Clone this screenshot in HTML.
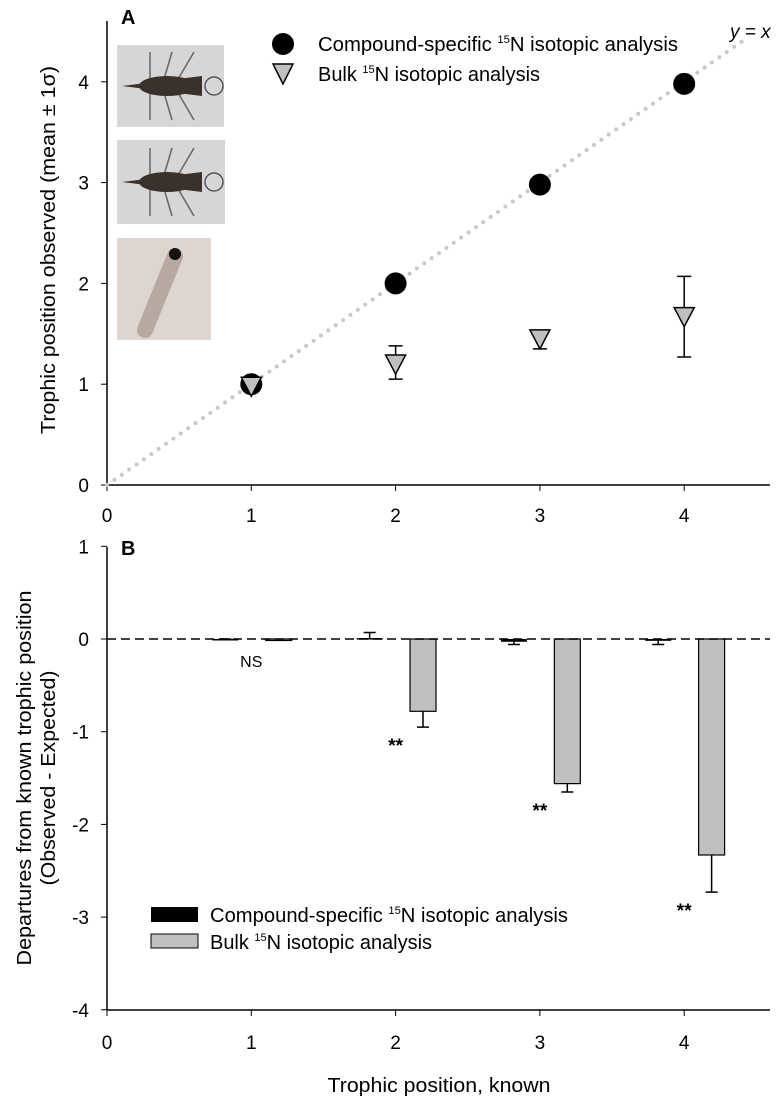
<!DOCTYPE html>
<html><head><meta charset="utf-8"><style>
body{margin:0;background:#fff}
svg{display:block;font-family:"Liberation Sans",sans-serif}
</style></head><body>
<svg id="c" width="783" height="1102" viewBox="0 0 783 1102"></svg>
<script>
const categories=[1,2,3,4];
const csMeanA=[1.0,2.0,2.98,3.98];
const bulkMeanA=[0.98,1.2,1.45,1.67];
const bulkLoA=[0.98,1.05,1.35,1.27];
const bulkHiA=[0.98,1.38,1.53,2.07];
const csDepB=[0,0.01,-0.03,-0.02];
const csErrB=[0,0.07,-0.06,-0.06];
const bulkDepB=[-0.01,-0.78,-1.56,-2.33];
const bulkErrB=[-0.01,-0.95,-1.65,-2.73];
const sigLabels=["NS","**","**","**"];
const ticksXA=[0,1,2,3,4];
const ticksYA=[0,1,2,3,4];
const ticksYB=[1,0,-1,-2,-3,-4];

const NS="http://www.w3.org/2000/svg";
const svg=document.getElementById('c');
function el(t,a,p){const e=document.createElementNS(NS,t);for(const k in a)e.setAttribute(k,a[k]);(p||svg).appendChild(e);return e;}
const X=v=>107+v*144.3;
const YA=v=>485-v*100.8;
const YB=v=>639-v*92.7;
const FS=19;
let e;
// Panel A axes
e=el('line',{x1:107,y1:21,x2:107,y2:485,stroke:'#000','stroke-width':1.5});

e=el('line',{x1:107,y1:485,x2:770,y2:485,stroke:'#000','stroke-width':1.5});

ticksYA.forEach(v=>{el('line',{x1:101,x2:107,y1:YA(v),y2:YA(v),stroke:'#000'});
 e=el('text',{x:89,y:YA(v)+7,'text-anchor':'end','font-size':FS});e.textContent=v;
 });
ticksXA.forEach(v=>{el('line',{x1:X(v),x2:X(v),y1:485,y2:491,stroke:'#000'});
 e=el('text',{x:X(v),y:522,'text-anchor':'middle','font-size':FS});e.textContent=v;
 });
e=el('text',{x:0,y:0,'font-size':20,'text-anchor':'middle',textLength:368,lengthAdjust:'spacingAndGlyphs',transform:'translate(55,250) rotate(-90)'});
e.innerHTML='Trophic position observed (mean ± 1σ)';

e=el('text',{x:121,y:24,'font-size':20,'font-weight':'bold'});e.textContent='A';

e=el('line',{x1:X(0),y1:YA(0),x2:X(4.4),y2:YA(4.4),stroke:'#c8c8c8','stroke-width':4,'stroke-dasharray':'0 9','stroke-linecap':'round'});

e=el('text',{x:730,y:38,'font-size':19,'font-style':'italic'});e.textContent='y = x';

// photos
[[117,45,107,82],[117,140,108,84],[117,238,94,102]].forEach((r,i)=>{
 const g=el('g',{});
 el('rect',{x:r[0],y:r[1],width:r[2],height:r[3],fill:i==2?'#ddd6d0':'#d6d6d6'},g);
 if(i<2){const cx=r[0]+45,cy=r[1]+r[3]/2;
  for(let k=-1;k<=1;k++){el('line',{x1:cx+k*12,y1:cy,x2:cx+k*22+10,y2:cy-34,stroke:'#666','stroke-width':1.5},g);el('line',{x1:cx+k*12,y1:cy,x2:cx+k*22+10,y2:cy+34,stroke:'#666','stroke-width':1.5},g);}
  el('path',{d:`M${r[0]+5},${cy} L${cx+40},${cy-10} L${cx+40},${cy+10} Z`,fill:'#3a302c'},g);
  el('ellipse',{cx:cx+5,cy:cy,rx:28,ry:10,fill:'#3a302c'},g);
  el('circle',{cx:cx+52,cy:cy,r:9,fill:'none',stroke:'#555','stroke-width':1.5},g);}
 else{el('line',{x1:r[0]+58,y1:r[1]+18,x2:r[0]+28,y2:r[1]+92,stroke:'#b8a8a2','stroke-width':16,'stroke-linecap':'round'},g);
  el('circle',{cx:r[0]+58,cy:r[1]+16,r:6,fill:'#111'},g);}
});
categories.forEach((c,i)=>{
 const x=X(c);
 if(bulkHiA[i]!==bulkLoA[i]){
  e=el('path',{d:`M${x},${YA(bulkLoA[i])}V${YA(bulkHiA[i])}M${x-7},${YA(bulkLoA[i])}h14M${x-7},${YA(bulkHiA[i])}h14`,stroke:'#000','stroke-width':1.5,fill:'none'});
  }
 e=el('circle',{cx:x,cy:YA(csMeanA[i]),r:11,fill:'#000'});
 
 const y=YA(bulkMeanA[i]);
 e=el('path',{d:`M${x-10},${y-9}h20l-10,19z`,fill:'#c0c0c0',stroke:'#000','stroke-width':1.5});
 
});
e=el('circle',{cx:283,cy:44,r:11,fill:'#000'});
e=el('path',{d:'M273,64h20l-10,20z',fill:'#c0c0c0',stroke:'#000','stroke-width':1.5});
e=el('text',{x:318,y:51,'font-size':20,textLength:360,lengthAdjust:'spacingAndGlyphs'});e.innerHTML='Compound-specific <tspan font-size="11" dy="-8">15</tspan><tspan dy="8">N isotopic analysis</tspan>';

e=el('text',{x:318,y:81,'font-size':20,textLength:222,lengthAdjust:'spacingAndGlyphs'});e.innerHTML='Bulk <tspan font-size="11" dy="-8">15</tspan><tspan dy="8">N isotopic analysis</tspan>';


// Panel B
e=el('line',{x1:107,y1:547,x2:107,y2:1010,stroke:'#000','stroke-width':1.5});

e=el('line',{x1:107,y1:1010,x2:770,y2:1010,stroke:'#000','stroke-width':1.5});

ticksYB.forEach(v=>{el('line',{x1:101,x2:107,y1:YB(v),y2:YB(v),stroke:'#000'});
 e=el('text',{x:89,y:YB(v)+7,'text-anchor':'end','font-size':FS});e.textContent=v;
 });
ticksXA.forEach(v=>{el('line',{x1:X(v),x2:X(v),y1:1010,y2:1016,stroke:'#000'});
 e=el('text',{x:X(v),y:1049,'text-anchor':'middle','font-size':FS});e.textContent=v;
 });
e=el('text',{x:121,y:555,'font-size':20,'font-weight':'bold'});e.textContent='B';

e=el('text',{x:0,y:0,'font-size':20,'text-anchor':'middle',textLength:375,lengthAdjust:'spacingAndGlyphs',transform:'translate(31,778) rotate(-90)'});e.textContent='Departures from known trophic position';

e=el('text',{x:0,y:0,'font-size':20,'text-anchor':'middle',textLength:215,lengthAdjust:'spacingAndGlyphs',transform:'translate(55,778) rotate(-90)'});e.textContent='(Observed - Expected)';

e=el('text',{x:439,y:1092,'font-size':20,'text-anchor':'middle',textLength:223,lengthAdjust:'spacingAndGlyphs'});e.textContent='Trophic position, known';

const bw=0.18*144.3;
categories.forEach((c,i)=>{
 const xc=X(c-0.18), xb=X(c+0.19);
 e=el('path',{d:`M${xc},${YB(0)}V${YB(csErrB[i])}M${xc-6},${YB(csErrB[i])}h12`,stroke:'#000','stroke-width':1.5});
 
 const y0=Math.min(YB(0),YB(csDepB[i])),h=Math.abs(YB(csDepB[i])-YB(0));
 e=el('rect',{x:xc-bw/2,y:y0,width:bw,height:Math.max(h,1.5),fill:'#000'});
 
 e=el('path',{d:`M${xb},${YB(bulkDepB[i])}V${YB(bulkErrB[i])}M${xb-6},${YB(bulkErrB[i])}h12`,stroke:'#000','stroke-width':1.5});
 
 e=el('rect',{x:xb-bw/2,y:YB(0),width:bw,height:Math.max(YB(bulkDepB[i])-YB(0),1.5),fill:'#c0c0c0',stroke:'#000','stroke-width':1.2});
 
 const sy=i==0?YB(-0.3):YB(bulkErrB[i]-0.27);
 e=el('text',{x:X(c),y:sy,'text-anchor':'middle','font-size':i==0?16:19,'font-weight':i==0?'normal':'bold'});e.textContent=sigLabels[i];
 
});
e=el('line',{x1:107,y1:YB(0),x2:770,y2:YB(0),stroke:'#000','stroke-width':1.5,'stroke-dasharray':'9 5'});

e=el('rect',{x:151,y:907,width:47,height:15,fill:'#000'});
e=el('rect',{x:151,y:934,width:47,height:14,fill:'#c0c0c0',stroke:'#000'});
e=el('text',{x:210,y:922,'font-size':20,textLength:358,lengthAdjust:'spacingAndGlyphs'});e.innerHTML='Compound-specific <tspan font-size="11" dy="-8">15</tspan><tspan dy="8">N isotopic analysis</tspan>';

e=el('text',{x:210,y:949,'font-size':20,textLength:222,lengthAdjust:'spacingAndGlyphs'});e.innerHTML='Bulk <tspan font-size="11" dy="-8">15</tspan><tspan dy="8">N isotopic analysis</tspan>';

</script>
</body></html>
